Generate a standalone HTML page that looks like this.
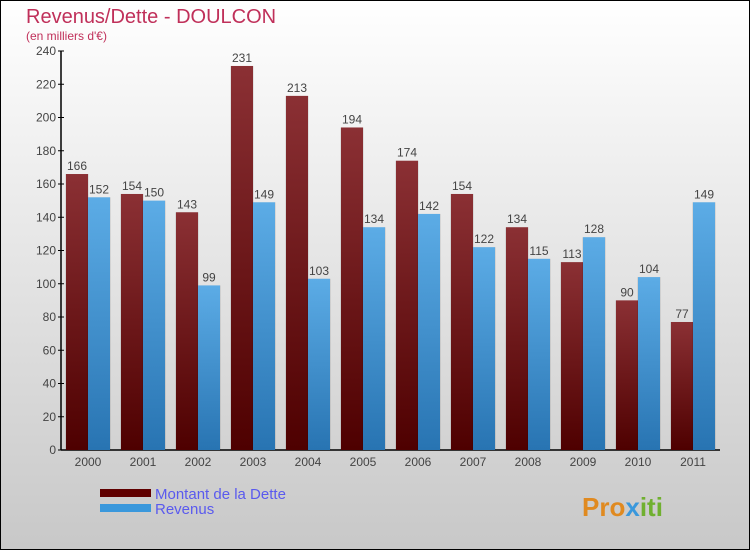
<!DOCTYPE html>
<html><head><meta charset="utf-8"><style>
body{margin:0}
svg{display:block;font-family:"Liberation Sans",sans-serif}
</style></head><body>
<svg id="c" width="750" height="550" xmlns="http://www.w3.org/2000/svg">
<defs>
<linearGradient id="bg" x1="0" y1="0" x2="0" y2="1"><stop offset="0" stop-color="#ffffff"/><stop offset="1" stop-color="#c8c8c8"/></linearGradient>
<linearGradient id="gd" x1="0" y1="0" x2="0" y2="1"><stop offset="0" stop-color="#8b3034"/><stop offset="1" stop-color="#4e0000"/></linearGradient>
<linearGradient id="gr" x1="0" y1="0" x2="0" y2="1"><stop offset="0" stop-color="#5cacE6"/><stop offset="1" stop-color="#2874b2"/></linearGradient>
</defs>
<rect x="0.5" y="0.5" width="749" height="549" fill="url(#bg)" stroke="#000"/>
<text x="26" y="23" font-size="20" fill="#c0305a">Revenus/Dette - DOULCON</text>
<text x="26" y="40" font-size="12" fill="#c0305a">(en milliers d'€)</text>
<g id="axes"></g>
<g id="bars"></g>
<rect x="100" y="489" width="51" height="8" fill="#600000"/>
<text x="155" y="499" font-size="15" fill="#5a5aee">Montant de la Dette</text>
<rect x="100" y="504" width="51" height="8" fill="#3a98dc"/>
<text x="155" y="514" font-size="15" fill="#5a5aee">Revenus</text>
<text x="582" y="516" font-size="26" font-weight="bold" fill="#e08a20">Pro<tspan fill="#3a98dc">x</tspan><tspan fill="#70b030">iti</tspan></text>
</svg>
<script>
const categories=["2000","2001","2002","2003","2004","2005","2006","2007","2008","2009","2010","2011"];
const dette=[166,154,143,231,213,194,174,154,134,113,90,77];
const revenus=[152,150,99,149,103,134,142,122,115,128,104,149];
const ticks=[0,20,40,60,80,100,120,140,160,180,200,220,240];
const NS="http://www.w3.org/2000/svg";
const y0=450,yTop=51,vMax=240;
const y=v=>y0-(y0-yTop)*v/vMax;
const gx=i=>66+55*i;
function mk(t,a,p){const e=document.createElementNS(NS,t);for(const k in a)e.setAttribute(k,a[k]);p.appendChild(e);return e;}
const ax=document.getElementById('axes'),bg=document.getElementById('bars');
const yl=mk('line',{x1:61,y1:y(0),x2:61,y2:yTop,stroke:'#000','stroke-width':1.5},ax);


const xl=mk('line',{x1:61,y1:y0,x2:720,y2:y0,stroke:'#000','stroke-width':1.5},ax);


ticks.forEach(t=>{
 mk('line',{x1:58,y1:y(t),x2:64,y2:y(t),stroke:'#000'},ax);
 const tx=mk('text',{x:56,y:y(t)+4,'text-anchor':'end','font-size':12,fill:'#444'},ax);tx.textContent=t;
 
 
});
categories.forEach((c,i)=>{
 const x=gx(i);
 const tx=mk('text',{x:x+22,y:466,'text-anchor':'middle','font-size':12,fill:'#444'},ax);tx.textContent=c;
 
 
 [[dette[i],'url(#gd)',x,'bar-dette'],[revenus[i],'url(#gr)',x+22,'bar-revenus']].forEach(([v,f,bx,n])=>{
  mk('rect',{x:bx-1,y:y(v),width:24,height:y0-y(v),fill:'#000',opacity:0.08},bg);
  const r=mk('rect',{x:bx,y:y(v),width:22,height:y0-y(v),fill:f},bg);
  
  
  const l=mk('text',{x:bx+11,y:y(v)-4,'text-anchor':'middle','font-size':12,fill:'#444'},bg);l.textContent=v;
  
  
 });
});
</script>
</body></html>
